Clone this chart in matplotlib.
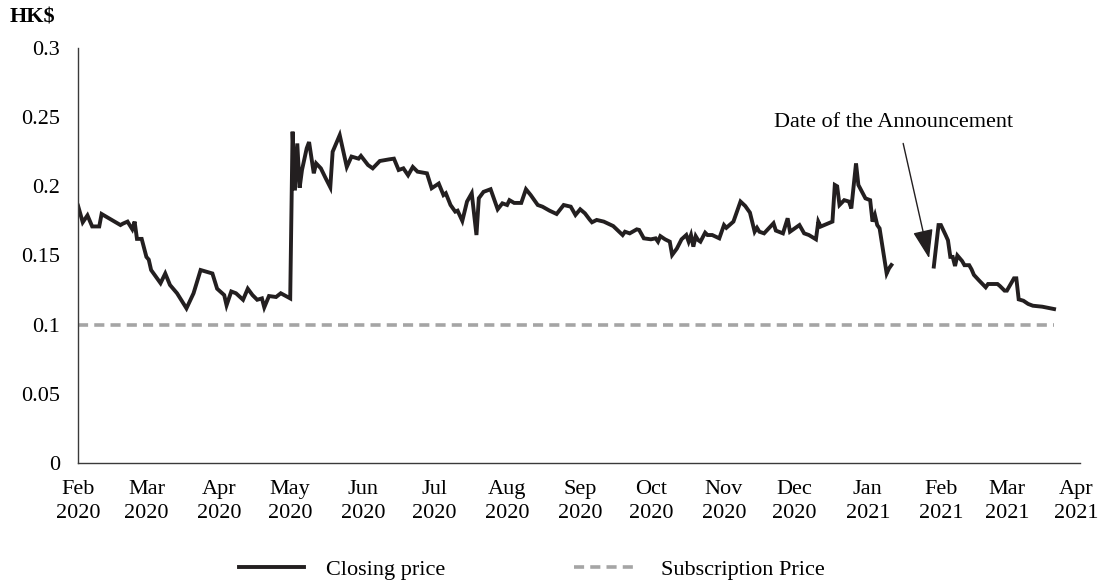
import numpy as np
import pandas as pd
import matplotlib
matplotlib.use("Agg")
import matplotlib.pyplot as plt
import matplotlib.dates as mdates
from matplotlib.transforms import ScaledTranslation

plt.rcParams['font.family'] = ['Liberation Serif', 'DejaVu Serif']

# closing price (nan = trading suspension gap)
dates = [
    "2020-02-01", "2020-02-03", "2020-02-05", "2020-02-07", "2020-02-10", "2020-02-11",
    "2020-02-15", "2020-02-17", "2020-02-19", "2020-02-20", "2020-02-22", "2020-02-24",
    "2020-02-25", "2020-02-26", "2020-02-28", "2020-03-01", "2020-03-02", "2020-03-03",
    "2020-03-07", "2020-03-09", "2020-03-11", "2020-03-14", "2020-03-18", "2020-03-21",
    "2020-03-24", "2020-03-29", "2020-03-31", "2020-04-03", "2020-04-04", "2020-04-06",
    "2020-04-08", "2020-04-11", "2020-04-13", "2020-04-15", "2020-04-17", "2020-04-19",
    "2020-04-20", "2020-04-22", "2020-04-25", "2020-04-27", "2020-05-01", "2020-05-02",
    "2020-05-03", "2020-05-04", "2020-05-05", "2020-05-06", "2020-05-08", "2020-05-09",
    "2020-05-11", "2020-05-12", "2020-05-14", "2020-05-16", "2020-05-18", "2020-05-19",
    "2020-05-22", "2020-05-25", "2020-05-27", "2020-05-30", "2020-05-31", "2020-06-03",
    "2020-06-05", "2020-06-08", "2020-06-12", "2020-06-14", "2020-06-16", "2020-06-18",
    "2020-06-20", "2020-06-22", "2020-06-24", "2020-06-28", "2020-06-30", "2020-07-03",
    "2020-07-05", "2020-07-06", "2020-07-08", "2020-07-10", "2020-07-11", "2020-07-13",
    "2020-07-15", "2020-07-17", "2020-07-19", "2020-07-20", "2020-07-22", "2020-07-25",
    "2020-07-28", "2020-07-30", "2020-08-01", "2020-08-02", "2020-08-04", "2020-08-07",
    "2020-08-09", "2020-08-11", "2020-08-14", "2020-08-16", "2020-08-19", "2020-08-22",
    "2020-08-25", "2020-08-28", "2020-08-30", "2020-09-01", "2020-09-03", "2020-09-05",
    "2020-09-06", "2020-09-08", "2020-09-11", "2020-09-15", "2020-09-18", "2020-09-19",
    "2020-09-20", "2020-09-22", "2020-09-25", "2020-09-26", "2020-09-28", "2020-10-01",
    "2020-10-03", "2020-10-04", "2020-10-05", "2020-10-07", "2020-10-09", "2020-10-10",
    "2020-10-12", "2020-10-14", "2020-10-16", "2020-10-17", "2020-10-18", "2020-10-19",
    "2020-10-20", "2020-10-21", "2020-10-22", "2020-10-24", "2020-10-25", "2020-10-27",
    "2020-10-30", "2020-11-01", "2020-11-02", "2020-11-05", "2020-11-06", "2020-11-08",
    "2020-11-10", "2020-11-12", "2020-11-14", "2020-11-15", "2020-11-16", "2020-11-18",
    "2020-11-22", "2020-11-23", "2020-11-26", "2020-11-28", "2020-11-29", "2020-12-03",
    "2020-12-05", "2020-12-07", "2020-12-10", "2020-12-11", "2020-12-12", "2020-12-17",
    "2020-12-18", "2020-12-19", "2020-12-20", "2020-12-22", "2020-12-24", "2020-12-25",
    "2020-12-27", "2020-12-28", "2020-12-31", "2021-01-02", "2021-01-03", "2021-01-04",
    "2021-01-05", "2021-01-06", "2021-01-09", "2021-01-10", "2021-01-11", "2021-01-20",
    "2021-01-29", "2021-01-31", "2021-02-01", "2021-02-03", "2021-02-04", "2021-02-05",
    "2021-02-06", "2021-02-07", "2021-02-08", "2021-02-10", "2021-02-11", "2021-02-13",
    "2021-02-14", "2021-02-15", "2021-02-17", "2021-02-20", "2021-02-21", "2021-02-25",
    "2021-02-26", "2021-02-28", "2021-03-01", "2021-03-04", "2021-03-05", "2021-03-06",
    "2021-03-08", "2021-03-10", "2021-03-12", "2021-03-16", "2021-03-21",
]
closing = [
    0.186, 0.174, 0.179, 0.171, 0.171, 0.180,
    0.176, 0.174, 0.172, 0.173, 0.1745, 0.169,
    0.1745, 0.162, 0.162, 0.149, 0.147, 0.1395,
    0.130, 0.137, 0.1287, 0.1227, 0.1118, 0.1227,
    0.1395, 0.137, 0.126, 0.1214, 0.114, 0.124,
    0.1227, 0.118, 0.126, 0.1214, 0.118, 0.119,
    0.1125, 0.1207, 0.120, 0.1227, 0.119, 0.2395,
    0.197, 0.231, 0.199, 0.2118, 0.2275, 0.232,
    0.2094, 0.2166, 0.213, 0.206, 0.1993, 0.225,
    0.237, 0.214, 0.2215, 0.220, 0.222, 0.2154,
    0.213, 0.2183, 0.2195, 0.220, 0.2118, 0.213,
    0.208, 0.214, 0.2106, 0.2094, 0.1986, 0.202,
    0.1937, 0.195, 0.1865, 0.1817, 0.1824, 0.175,
    0.189, 0.195, 0.1648, 0.1914, 0.196, 0.1979,
    0.1834, 0.1877, 0.1865, 0.190, 0.188, 0.188,
    0.1979, 0.1937, 0.1865, 0.1853, 0.1824, 0.180,
    0.1865, 0.1853, 0.1793, 0.1834, 0.1805, 0.176,
    0.174, 0.1757, 0.1745, 0.1713, 0.1665, 0.1648,
    0.1672, 0.166, 0.1689, 0.1685, 0.1624, 0.1617,
    0.1624, 0.160, 0.164, 0.1617, 0.160, 0.1504,
    0.155, 0.1617, 0.1648, 0.160, 0.1648, 0.1564,
    0.164, 0.1612, 0.160, 0.1665, 0.1648, 0.1648,
    0.1624, 0.172, 0.170, 0.1745, 0.1793, 0.189,
    0.1858, 0.181, 0.1672, 0.170, 0.1672, 0.166,
    0.1733, 0.168, 0.166, 0.1769, 0.1672, 0.172,
    0.166, 0.1648, 0.1617, 0.1745, 0.1709, 0.1745,
    0.201, 0.200, 0.1865, 0.190, 0.189, 0.184,
    0.2166, 0.201, 0.1913, 0.190, 0.1745, 0.1793,
    0.172, 0.1696, 0.137, 0.1407, 0.1431, np.nan,
    0.142, 0.172, 0.172, 0.1648, 0.161, 0.149,
    0.149, 0.1424, 0.150, 0.146, 0.143, 0.143,
    0.140, 0.136, 0.1323, 0.127, 0.1294, 0.1294,
    0.128, 0.1246, 0.1246, 0.1335, 0.1335, 0.1183,
    0.1173, 0.115, 0.1137, 0.113, 0.1113,
]
subscription_price = 0.1
announcement_date = "2021-01-27"

dates = pd.to_datetime(dates)
closing = np.array(closing)

fig = plt.figure(figsize=(10.99, 5.85), dpi=100)
ax = fig.add_axes([0.071, 0.2085, 0.9117, 0.7095])

ax.plot(dates, closing, color='#231f20', lw=2.8, solid_joinstyle='miter',
        label='Closing price')
ax.plot([dates[0], dates[-1]], [subscription_price] * 2, color='#a5a5a5', lw=2.6,
        dashes=(2.8, 1.7), label='Subscription Price')

ax.set_xlim(pd.Timestamp('2020-02-01'), pd.Timestamp('2021-04-01'))
ax.set_ylim(0, 0.3)
ax.set_yticks(np.arange(0, 0.301, 0.05))
ax.yaxis.set_major_formatter(plt.FuncFormatter(lambda v, p: f'{v:g}'))
ax.xaxis.set_major_locator(mdates.MonthLocator())
ax.xaxis.set_major_formatter(mdates.DateFormatter('%b\n%Y'))

for s in ['top', 'right']:
    ax.spines[s].set_visible(False)
for s in ['left', 'bottom']:
    ax.spines[s].set_color('#3a3a3a')
    ax.spines[s].set_linewidth(1.0)
ax.tick_params(axis='y', length=0, pad=13, labelsize=16)
ax.tick_params(axis='x', length=0, pad=12, labelsize=16)

fig.canvas.draw()
xlabels = ax.get_xticklabels()
for t in xlabels:
    t.set_linespacing(1.35)
# keep the last month label inside the picture
xlabels[-1].set_transform(xlabels[-1].get_transform() +
                          ScaledTranslation(-3 / 72, 0, fig.dpi_scale_trans))

# announcement arrow
ann = pd.Timestamp(announcement_date)
ax.annotate('', xy=(ann, 0.148), xytext=(pd.Timestamp('2021-01-16'), 0.231),
            arrowprops=dict(arrowstyle='-|>,head_length=1.0,head_width=0.35',
                            color='#231f20', lw=1.0, mutation_scale=18,
                            shrinkA=0, shrinkB=0))
ax.text(pd.Timestamp('2021-01-12'), 0.2458, 'Date of the Announcement',
        ha='center', va='center', fontsize=16)

fig.text(0.009, 1 - 18 / 585, 'HK$', fontsize=16, fontweight='bold',
         va='center', ha='left')

fig.legend(loc='center', bbox_to_anchor=(0.484, 1 - 570 / 585), ncol=2,
           frameon=False, fontsize=16, handlelength=2.9, handletextpad=1.0,
           columnspacing=5.8)

fig.savefig('out.png', dpi=100)
